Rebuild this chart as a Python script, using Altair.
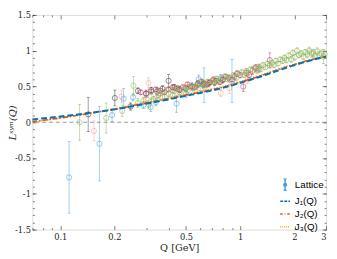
import altair as alt
import pandas as pd

# ---------------- data ----------------
fit_q  = [0.07, 0.1, 0.15, 0.2, 0.3, 0.4, 0.5, 0.6, 0.8, 1.0, 1.3, 1.7, 2.2, 3.0]
fit_J1 = [0.04, 0.08, 0.135, 0.18, 0.26, 0.32, 0.37, 0.41, 0.48, 0.55, 0.64, 0.74, 0.83, 0.92]
fit_J2 = [0.01, 0.06, 0.13, 0.18, 0.27, 0.33, 0.38, 0.42, 0.49, 0.56, 0.65, 0.75, 0.84, 0.92]
fit_J3 = [0.00, 0.06, 0.135, 0.19, 0.28, 0.34, 0.39, 0.43, 0.50, 0.57, 0.66, 0.76, 0.84, 0.92]

gray_q = [0.143, 0.201, 0.246, 0.27, 0.30, 0.32, 0.345, 0.37, 0.40, 0.43, 0.46, 0.50,
          0.54, 0.58, 0.62, 0.67, 0.72, 0.80]
gray_L = [0.11, 0.34, 0.22, 0.44, 0.40, 0.45, 0.43, 0.47, 0.58, 0.49, 0.46, 0.47,
          0.50, 0.54, 0.53, 0.55, 0.56, 0.59]
gray_e = [0.24, 0.11, 0.05, 0.04, 0.05, 0.04, 0.05, 0.04, 0.09, 0.04, 0.04, 0.04,
          0.05, 0.04, 0.05, 0.04, 0.05, 0.04]

pink_q = [0.154, 0.219, 0.309, 0.35, 0.42, 0.50, 0.65, 0.87, 1.10]
pink_L = [-0.12, 0.36, 0.55, 0.38, 0.45, 0.48, 0.52, 0.48, 0.60]
pink_e = [0.14, 0.09, 0.07, 0.05, 0.04, 0.05, 0.06, 0.08, 0.06]

blue_q = [0.112, 0.165, 0.194, 0.225, 0.254, 0.29, 0.318, 0.34, 0.443, 0.50, 0.588, 0.63, 0.78, 0.90]
blue_L = [-0.77, -0.30, 0.10, 0.33, 0.35, 0.24, 0.21, 0.28, 0.26, 0.40, 0.60, 0.52, 0.62, 0.58]
blue_e = [0.50, 0.52, 0.09, 0.14, 0.05, 0.05, 0.06, 0.05, 0.12, 0.05, 0.06, 0.24, 0.05, 0.30]

green_q = [0.128, 0.180, 0.221, 0.255, 0.27, 0.29, 0.31, 0.33, 0.35, 0.37, 0.40, 0.43, 0.46,
           0.49, 0.52, 0.55, 0.58, 0.62, 0.66, 0.70, 0.74, 0.78, 0.82, 0.87, 0.92, 0.97,
           1.02, 1.08, 1.14, 1.20, 1.27, 1.34, 1.42, 1.50, 1.58, 1.67, 1.76, 1.86, 1.96,
           2.07, 2.18, 2.30, 2.42, 2.55, 2.68, 2.82, 2.95,
           1.30, 1.62, 1.92, 2.24, 2.60, 2.90,
           0.32, 0.36, 0.39, 0.42, 0.45, 0.51, 0.57, 0.60, 0.64, 0.72, 0.76, 0.85, 0.95,
           1.05, 1.11, 1.24, 1.38, 1.46, 1.54, 1.72, 1.81, 2.01, 2.12, 2.36, 2.49, 2.75]
green_L = [0.00, 0.06, 0.16, 0.51, 0.27, 0.30, 0.25, 0.32, 0.38, 0.35, 0.40, 0.44, 0.42,
           0.47, 0.50, 0.48, 0.53, 0.55, 0.57, 0.58, 0.61, 0.60, 0.64, 0.63, 0.66, 0.68,
           0.70, 0.72, 0.74, 0.76, 0.78, 0.80, 0.82, 0.83, 0.86, 0.88, 0.90, 0.93, 0.97,
           1.00, 0.96, 0.98, 1.00, 0.97, 0.99, 0.96, 0.95,
           0.74, 0.82, 0.88, 0.92, 0.93, 0.92,
           0.36, 0.41, 0.45, 0.38, 0.48, 0.44, 0.50, 0.47, 0.52, 0.55, 0.57, 0.60, 0.62,
           0.66, 0.69, 0.72, 0.77, 0.79, 0.80, 0.86, 0.87, 0.91, 0.94, 0.95, 0.96, 0.94]
green_e = [0.25, 0.21, 0.08, 0.13, 0.06, 0.05, 0.05, 0.04, 0.04, 0.05, 0.04, 0.04, 0.04,
           0.03, 0.03, 0.04, 0.03, 0.03, 0.03, 0.03, 0.03, 0.03, 0.03, 0.03, 0.03, 0.03,
           0.03, 0.03, 0.03, 0.03, 0.03, 0.03, 0.03, 0.03, 0.03, 0.03, 0.04, 0.04, 0.04,
           0.04, 0.04, 0.04, 0.05, 0.05, 0.05, 0.05, 0.06,
           0.03, 0.03, 0.04, 0.04, 0.05, 0.10,
           0.04, 0.04, 0.03, 0.04, 0.03, 0.03, 0.03, 0.03, 0.03, 0.03, 0.03, 0.03, 0.03,
           0.03, 0.03, 0.03, 0.03, 0.03, 0.03, 0.04, 0.04, 0.04, 0.04, 0.05, 0.05, 0.05]

crim_q = [0.28, 0.32, 0.36, 0.40, 0.44, 0.48, 0.53, 0.58, 0.63, 0.68, 0.74, 0.80,
          0.86, 0.93, 1.00, 1.04, 1.08, 1.17, 1.27, 1.46,
          0.30, 0.34, 0.38, 0.42, 0.46, 0.51, 0.56, 0.61, 0.66, 0.71, 0.77, 0.83,
          0.90, 0.96, 1.12, 1.22]
crim_L = [0.42, 0.43, 0.44, 0.46, 0.47, 0.49, 0.50, 0.52, 0.54, 0.56, 0.58, 0.60,
          0.62, 0.64, 0.66, 0.50, 0.69, 0.72, 0.75, 0.87,
          0.40, 0.46, 0.42, 0.49, 0.45, 0.53, 0.49, 0.57, 0.53, 0.60, 0.56, 0.64,
          0.60, 0.68, 0.66, 0.76]
crim_e = [0.03, 0.03, 0.03, 0.03, 0.03, 0.03, 0.03, 0.03, 0.03, 0.03, 0.03, 0.03,
          0.03, 0.04, 0.04, 0.07, 0.04, 0.05, 0.05, 0.10,
          0.03, 0.03, 0.03, 0.03, 0.03, 0.03, 0.03, 0.03, 0.03, 0.03, 0.03, 0.03,
          0.03, 0.04, 0.04, 0.05]

orng_q = [0.30, 0.38, 0.47, 0.56, 0.66, 0.78]
orng_L = [0.33, 0.36, 0.40, 0.44, 0.47, 0.41]
orng_e = [0.04, 0.04, 0.04, 0.03, 0.03, 0.05]

x_major = [0.1, 0.2, 0.5, 1, 2, 3]
x_minor = [0.07, 0.08, 0.09, 0.3, 0.4, 0.6, 0.7, 0.8, 0.9]
y_major = [-1.5, -1, -0.5, 0, 0.5, 1, 1.5]
y_minor = [round(-1.5 + 0.1 * i, 1) for i in range(31)]

legend_names = ["Lattice", "J\u2081(Q)", "J\u2082(Q)", "J\u2083(Q)"]

# ---------------- styling ----------------
FONT = "DejaVu Serif"
INK = "#262626"
W, H = 301, 220

xs = alt.Scale(type="log", domain=[0.07, 3], nice=False)
ys = alt.Scale(domain=[-1.5, 1.5], nice=False)


def frame(q, L, e):
    return pd.DataFrame({
        "Q": q, "L": L,
        "lo": [a - b for a, b in zip(L, e)],
        "hi": [a + b for a, b in zip(L, e)],
    })


layers = []

zero = alt.Chart(pd.DataFrame({"y": [0]})).mark_rule(
    color="#8c8c8c", strokeDash=[4, 3], strokeWidth=0.9
).encode(y=alt.Y("y:Q", scale=ys, axis=None))
layers.append(zero)

groups = [
    (gray_q, gray_L, gray_e, "#3a3a3a"),
    (pink_q, pink_L, pink_e, "#f4a09a"),
    (blue_q, blue_L, blue_e, "#4a9fda"),
    (orng_q, orng_L, orng_e, "#f2b48a"),
    (crim_q, crim_L, crim_e, "#b54062"),
    (green_q, green_L, green_e, "#8fb35a"),
]

for q, L, e, col in groups:
    df = frame(q, L, e)
    bars = alt.Chart(df).mark_errorbar(
        ticks=True, size=3, thickness=0.7, color=col, opacity=0.7
    ).encode(
        x=alt.X("Q:Q", scale=xs, axis=None),
        y=alt.Y("lo:Q", scale=ys, axis=None),
        y2="hi:Q",
    )
    pts = alt.Chart(df).mark_point(
        shape="circle", filled=False, size=28, strokeWidth=0.8, color=col, opacity=0.7
    ).encode(
        x=alt.X("Q:Q", scale=xs, axis=None),
        y=alt.Y("L:Q", scale=ys, axis=None),
    )
    layers += [bars, pts]

fit_df = pd.DataFrame({"Q": fit_q, "J1": fit_J1, "J2": fit_J2, "J3": fit_J3})
for col_name, color, dash, sw in [
    ("J3", "#EDB120", [1.5, 1.5], 1.6),
    ("J2", "#D95319", [5, 2, 1.5, 2], 1.6),
    ("J1", "#0072BD", [6, 3], 2.0),
]:
    layers.append(
        alt.Chart(fit_df).mark_line(
            color=color, strokeDash=dash, strokeWidth=sw, interpolate="monotone"
        ).encode(
            x=alt.X("Q:Q", scale=xs, axis=None),
            y=alt.Y(f"{col_name}:Q", scale=ys, axis=None),
        )
    )

# legend (invisible marks, visible legend symbols)
ebar_path = ("M0,-1.15V1.15M-0.3,-1.15H0.3M-0.3,1.15H0.3"
             "M0.28,0A0.28,0.28,0,1,1,-0.28,0A0.28,0.28,0,1,1,0.28,0")
leg_common = dict(title=None, orient="none", legendX=W - 48, legendY=H - 52,
                  symbolOpacity=1, symbolFillColor="transparent")
leg_df = pd.DataFrame({"series": legend_names})
legend_layer = alt.Chart(leg_df).mark_point(
    opacity=0, filled=False, strokeWidth=1.0
).encode(
    color=alt.Color("series:N", sort=None,
                    scale=alt.Scale(domain=legend_names,
                                    range=["#4a9fda", "#0072BD", "#D95319", "#EDB120"]),
                    legend=alt.Legend(**leg_common)),
    shape=alt.Shape("series:N", sort=None,
                    scale=alt.Scale(domain=legend_names,
                                    range=[ebar_path, "stroke", "stroke", "stroke"]),
                    legend=alt.Legend(**leg_common)),
    strokeDash=alt.StrokeDash("series:N", sort=None,
                              scale=alt.Scale(domain=legend_names,
                                              range=[[1, 0], [3, 1.2], [2.5, 2, 0.8, 2], [1, 1]]),
                              legend=alt.Legend(**leg_common)),
)
layers.append(legend_layer)


# axes layers
def axis_layer(xaxis, yaxis):
    return alt.Chart(fit_df).mark_point(opacity=0).encode(
        x=alt.X("Q:Q", scale=xs, axis=xaxis),
        y=alt.Y("J1:Q", scale=ys, axis=yaxis),
    )


def tick_axis(orient, offset, values, size):
    return alt.Axis(orient=orient, offset=offset, values=values, labels=False,
                    domain=False, grid=False, tickSize=size, tickColor=INK,
                    tickWidth=0.6, title=None)


label_x = alt.Axis(orient="bottom", values=x_major, labelExpr="datum.value",
                   tickSize=0, domain=False, grid=False, labelFont=FONT,
                   labelFontSize=8.5, labelColor=INK, labelPadding=3,
                   labelOverlap=False, title="Q [GeV]", titleFont=FONT,
                   titleFontSize=10, titleFontWeight="normal", titleColor=INK,
                   titlePadding=2)
label_y = alt.Axis(orient="left", values=y_major, labelExpr="datum.value",
                   tickSize=0, domain=False, grid=False, labelFont=FONT,
                   labelFontSize=8.5, labelColor=INK, labelPadding=2,
                   labelOverlap=False, title="L\u02e2\u02b8\u1d50(Q)", titleFont=FONT,
                   titleFontSize=10, titleFontWeight="normal", titleFontStyle="italic",
                   titleColor=INK, titleX=-15, titleY=H / 2, titleBaseline="bottom")

layers += [
    axis_layer(label_x, label_y),
    axis_layer(tick_axis("top", -H, x_minor, 2), tick_axis("right", -W, y_minor, 2)),
    axis_layer(tick_axis("bottom", -H, x_minor, 2), tick_axis("left", -W, y_minor, 2)),
    axis_layer(tick_axis("top", -H, x_major, 4), tick_axis("right", -W, y_major, 4)),
    axis_layer(tick_axis("bottom", -H, x_major, 4), tick_axis("left", -W, y_major, 4)),
]

chart = alt.layer(*layers).resolve_axis(
    x="independent", y="independent"
).properties(
    width=W, height=H,
    padding={"left": 25, "top": 4, "right": 3, "bottom": 27},
    autosize=alt.AutoSizeParams(type="none"),
).configure_view(
    stroke=INK, strokeWidth=0.7
).configure_legend(
    labelFont=FONT, labelFontSize=9.5, labelColor=INK, symbolSize=56,
    rowPadding=3, padding=0, labelOffset=3, symbolStrokeWidth=1.0
).configure(background="white")

chart.save("out.html", embed_options={"renderer": "svg", "actions": False})
